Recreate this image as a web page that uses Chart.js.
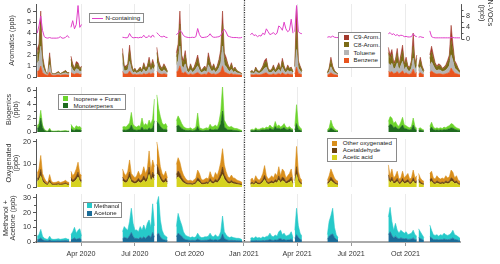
<!DOCTYPE html>
<html><head><meta charset="utf-8">
<script src="https://cdn.jsdelivr.net/npm/chart.js@4.4.1/dist/chart.umd.min.js"></script>
<style>
html,body{margin:0;padding:0;background:#fff;}
#wrap{position:relative;width:500px;height:264px;overflow:hidden;background:#fff;}
.pane{position:absolute;left:0;width:500px;}
.leg{position:absolute;background:#fff;border:1px solid #8a8a8a;box-sizing:border-box;font-family:'Liberation Sans',Arial,sans-serif;font-size:6.2px;color:#222;}
.leg .row{position:absolute;left:0;right:0;height:8px;line-height:8px;white-space:nowrap;}
.leg .sw{position:absolute;top:1.5px;width:5px;height:5px;}
.leg .ln{position:absolute;top:3.5px;width:11px;height:1px;}
.leg .tx{position:absolute;top:0;}
</style></head>
<body>
<div id="wrap">
  <div class="pane" style="top:0;height:82px"><canvas id="c1"></canvas></div>
  <div class="pane" style="top:82px;height:55px"><canvas id="c2"></canvas></div>
  <div class="pane" style="top:137px;height:55px"><canvas id="c3"></canvas></div>
  <div class="pane" style="top:192px;height:72px"><canvas id="c4"></canvas></div>
</div>
<script>
// ---------------- DATA ----------------
// time axis: day number counted from 1 Jan 2020; each measurement block starts at segStart and has one value every STEP days
const STEP = 3;
const segStart = [17, 74, 161, 219, 252, 377, 452, 507, 610, 661, 680];
const quarterDays = [91, 182, 274, 366, 456, 547, 639];
const quarterLabels = ['Apr 2020', 'Jul 2020', 'Oct 2020', 'Jan 2021', 'Apr 2021', 'Jul 2021', 'Oct 2021'];
const yearBreakDay = 366;

const aromTicks = [0, 1, 2, 3, 4, 5, 6];
const nvocTicks = [0, 4, 8];
const nvocMinor = [2, 6, 10];
const bioTicks = [0, 2, 4, 6];
const bioMinor = [1, 3, 5];
const oxyTicks = [0, 5, 10, 15, 20];
const methTicks = [0, 10, 20, 30];
const methMinor = [5, 15, 25];

// Aromatics (ppb)
const benzene = [
 [0.5,0.57,1.0,0.42,0.27,0.18,0.17,0.45,0.18,0.17,0.17,0.18,0.2,0.17,0.18,0.2,0.21,0.18,0.18],
 [0.4,0.3,0.24,0.33,0.32,0.24,0.27],
 [0.51,0.27,0.27,0.3,0.55,0.32,0.21,0.24,0.2,0.22,0.26,0.21,0.32,0.24,0.27,0.39,0.26,0.36,0.27],
 [0.53,0.35,0.27,0.24,0.3,0.26,0.2],
 [0.45,0.57,1.02,0.42,0.35,0.48,0.27,0.21,0.3,0.23,0.26,0.33,0.42,0.29,0.21,0.24,0.27,0.23,0.45,0.33,0.24,0.3,0.23,0.27,0.36,0.5,1.02,0.45,0.39,0.3,0.24,0.32,0.23,0.26,0.21,0.2,0.18,0.16],
 [0.2,0.21,0.18,0.26,0.21,0.2,0.22,0.27,0.35,0.38,0.24,0.21,0.22,0.29,0.21,0.26,0.32,0.22,0.38,0.27,0.21,0.29,0.24,0.26,0.2],
 [0.27,0.9,0.35,0.27,0.21],
 [0.18,0.24,0.39,0.27,0.21,0.18,0.17],
 [0.52,0.42,0.5,0.32,0.36,0.51,0.29,0.42,0.56,0.3,0.39,0.27,0.26,0.35,0.72,0.3,0.42],
 [0.27,0.39,0.27,0.21],
 [0.42,0.54,0.42,0.32,0.27,0.3,0.29,0.24,0.26,0.29,0.35,0.42,0.82,0.57,0.35,0.3,0.24,0.2]
];
const toluene = [
 [0.75,0.9,1.8,0.6,0.3,0.12,0.08,0.66,0.12,0.08,0.08,0.12,0.15,0.08,0.12,0.15,0.18,0.12,0.12],
 [0.57,0.36,0.24,0.42,0.39,0.24,0.3],
 [0.78,0.3,0.3,0.36,0.87,0.39,0.18,0.24,0.15,0.21,0.27,0.18,0.39,0.24,0.3,0.54,0.27,0.48,0.3],
 [0.81,0.45,0.3,0.24,0.36,0.27,0.15],
 [0.66,0.9,1.8,0.6,0.45,0.72,0.3,0.18,0.36,0.21,0.27,0.42,0.6,0.33,0.18,0.24,0.3,0.21,0.66,0.42,0.24,0.36,0.21,0.3,0.48,0.75,1.8,0.66,0.54,0.36,0.24,0.39,0.21,0.27,0.18,0.15,0.12,0.09],
 [0.15,0.18,0.12,0.27,0.18,0.15,0.21,0.3,0.45,0.51,0.24,0.18,0.21,0.33,0.18,0.27,0.39,0.21,0.51,0.3,0.18,0.33,0.24,0.27,0.15],
 [0.3,1.6,0.45,0.3,0.18],
 [0.12,0.24,0.54,0.3,0.18,0.12,0.08],
 [0.81,0.6,0.75,0.39,0.48,0.78,0.33,0.6,0.87,0.36,0.54,0.3,0.27,0.45,1.0,0.36,0.6],
 [0.3,0.54,0.3,0.18],
 [0.6,0.84,0.6,0.39,0.3,0.36,0.33,0.24,0.27,0.33,0.45,0.6,1.2,0.9,0.45,0.36,0.24,0.15]
];
const c8Arom = [
 [0.83,1.0,2.0,0.66,0.33,0.08,0.04,0.73,0.08,0.04,0.04,0.08,0.12,0.04,0.08,0.12,0.17,0.08,0.08],
 [0.63,0.4,0.26,0.46,0.43,0.26,0.33],
 [0.86,0.33,0.33,0.4,0.96,0.43,0.18,0.26,0.13,0.21,0.3,0.18,0.43,0.26,0.33,0.6,0.3,0.53,0.33],
 [0.89,0.5,0.33,0.26,0.4,0.3,0.13],
 [0.73,1.0,2.0,0.66,0.5,0.79,0.33,0.18,0.4,0.23,0.3,0.46,0.66,0.36,0.18,0.26,0.33,0.23,0.73,0.46,0.26,0.4,0.23,0.33,0.53,0.83,2.0,0.73,0.59,0.4,0.26,0.43,0.23,0.3,0.18,0.13,0.08,0.04],
 [0.12,0.17,0.08,0.3,0.17,0.12,0.21,0.33,0.5,0.56,0.26,0.17,0.21,0.36,0.17,0.3,0.43,0.21,0.56,0.33,0.17,0.36,0.26,0.3,0.12],
 [0.33,1.8,0.5,0.33,0.17],
 [0.08,0.26,0.6,0.33,0.17,0.08,0.04],
 [0.89,0.66,0.83,0.43,0.53,0.86,0.36,0.66,0.96,0.4,0.59,0.33,0.3,0.5,1.1,0.4,0.66],
 [0.33,0.6,0.33,0.17],
 [0.66,0.92,0.66,0.43,0.33,0.4,0.36,0.26,0.3,0.36,0.5,0.66,1.3,1.0,0.5,0.4,0.26,0.12]
];
const c9Arom = [
 [0.42,0.53,1.2,0.32,0.1,0.02,0.01,0.36,0.02,0.01,0.01,0.02,0.03,0.01,0.02,0.03,0.04,0.02,0.02],
 [0.3,0.14,0.06,0.19,0.16,0.06,0.1],
 [0.45,0.1,0.1,0.14,0.52,0.16,0.03,0.06,0.02,0.06,0.07,0.03,0.16,0.06,0.1,0.27,0.07,0.23,0.1],
 [0.47,0.2,0.1,0.06,0.14,0.07,0.02],
 [0.36,0.53,1.18,0.32,0.2,0.41,0.1,0.03,0.14,0.03,0.07,0.19,0.32,0.12,0.03,0.06,0.1,0.03,0.36,0.19,0.06,0.14,0.03,0.1,0.23,0.42,1.18,0.36,0.28,0.14,0.06,0.16,0.03,0.07,0.03,0.02,0.02,0.01],
 [0.03,0.04,0.02,0.07,0.04,0.03,0.06,0.1,0.2,0.25,0.06,0.04,0.06,0.12,0.04,0.07,0.16,0.06,0.25,0.1,0.04,0.12,0.06,0.07,0.03],
 [0.1,2.1,0.2,0.1,0.04],
 [0.02,0.06,0.27,0.1,0.04,0.02,0.01],
 [0.48,0.32,0.42,0.16,0.23,0.45,0.12,0.32,0.51,0.14,0.28,0.1,0.07,0.2,1.18,0.14,0.32],
 [0.1,0.27,0.1,0.04],
 [0.32,0.5,0.32,0.16,0.1,0.14,0.12,0.06,0.07,0.12,0.2,0.32,1.38,0.53,0.2,0.14,0.06,0.03]
];
// N-containing VOCs (ppb, right axis)
const nContaining = [
 [2.0,4.5,7.9,3.0,0.8,0.4,0.3,0.5,0.3,0.3,0.3,0.3,0.4,0.8,0.3,0.3,0.6,1.2,0.4],
 [4.0,6.3,3.5,5.0,11.5,4.0,5.0],
 [0.6,0.5,0.4,0.5,1.9,0.8,0.4,0.5,0.5,0.4,0.6,0.5,1.3,0.5,0.6,1.2,0.5,1.4,0.6],
 [2.2,1.5,0.9,0.7,1.0,0.6,0.5],
 [1.5,2.0,3.0,2.4,1.2,0.8,0.6,0.5,0.5,0.6,0.5,0.8,3.6,1.5,0.6,0.5,0.6,0.7,1.0,1.8,0.9,0.6,0.6,0.7,0.8,1.2,2.5,3.3,2.4,1.0,0.8,0.6,0.5,0.5,0.5,0.4,0.4,0.6],
 [1.5,2.0,1.2,1.4,0.8,1.2,1.0,2.0,1.5,3.5,2.5,1.5,1.8,2.2,1.5,2.0,4.5,4.0,3.0,5.8,3.5,2.5,3.0,6.8,2.0],
 [2.5,11.5,2.5,2.0,1.8],
 [0.6,0.8,0.6,1.0,0.6,0.5,0.5],
 [1.8,2.2,1.5,1.8,1.2,1.5,1.0,1.3,1.2,0.8,0.9,0.7,0.7,0.8,1.8,1.0,0.8],
 [0.6,0.8,0.6,0.5],
 [2.8,0.8,0.5,0.4,0.4,0.4,0.4,0.4,0.4,0.4,0.4,0.4,0.5,0.5,0.4,0.4,0.4,0.4]
];
// Biogenics (ppb)
const monoterpenes = [
 [0.5,0.7,2.0,0.6,0.25,0.08,0.06,0.3,0.06,0.05,0.05,0.06,0.08,0.05,0.06,0.07,0.08,0.06,0.06],
 [0.5,0.3,0.2,0.4,0.3,0.3,0.2],
 [0.25,0.3,0.25,0.35,0.45,1.0,0.4,0.3,0.25,0.3,0.3,0.7,0.3,0.4,0.3,0.6,0.4,0.6,1.6],
 [1.5,1.2,0.8,0.5,0.35,0.4,0.25],
 [0.7,1.0,0.8,0.5,0.35,0.25,0.2,0.2,0.25,0.15,0.2,0.3,0.8,0.25,0.2,0.15,0.2,0.25,0.2,0.45,0.3,0.3,0.4,0.3,0.6,1.2,3.0,0.7,0.5,0.3,0.3,0.3,0.25,0.2,0.2,0.15,0.1,0.08],
 [0.17,0.22,0.17,0.33,0.22,0.22,0.28,0.33,0.28,0.4,0.33,0.55,0.4,0.33,0.8,0.45,0.55,0.4,0.5,0.65,0.4,0.33,0.45,0.28,0.22],
 [0.3,1.2,0.4,0.25,0.15],
 [0.15,0.25,0.6,0.4,0.2,0.12,0.1],
 [0.75,1.1,1.0,0.6,0.75,0.5,0.4,0.7,1.0,0.5,0.45,0.35,0.3,0.4,1.0,0.4,0.25],
 [0.25,0.3,0.2,0.15],
 [0.4,0.7,0.35,0.25,0.3,0.25,0.3,0.25,0.35,0.3,0.4,0.45,0.6,0.55,0.4,0.3,0.25,0.2]
];
const isopreneFuran = [
 [0.4,0.5,1.1,0.4,0.15,0.1,0.08,0.25,0.1,0.08,0.08,0.1,0.1,0.08,0.1,0.12,0.12,0.1,0.1],
 [0.6,0.4,0.3,0.5,0.4,0.5,0.3],
 [0.45,0.5,0.45,0.65,0.85,1.8,0.7,0.5,0.45,0.6,0.5,1.3,0.6,0.8,0.6,1.1,0.7,1.3,3.1],
 [3.8,2.2,1.4,0.8,0.65,0.8,0.45],
 [0.9,1.3,1.0,0.7,0.45,0.35,0.3,0.3,0.35,0.25,0.3,0.4,1.9,0.35,0.3,0.25,0.3,0.35,0.3,0.65,0.4,0.5,0.6,0.4,0.9,1.7,3.6,1.0,0.7,0.5,0.4,0.5,0.35,0.3,0.3,0.25,0.2,0.12],
 [0.13,0.18,0.13,0.27,0.18,0.18,0.22,0.27,0.22,0.3,0.27,0.45,0.3,0.27,0.7,0.35,0.45,0.3,0.4,0.55,0.3,0.27,0.35,0.22,0.18],
 [0.5,2.7,0.6,0.35,0.25],
 [0.15,0.35,1.1,0.5,0.3,0.18,0.1],
 [0.75,1.1,1.0,0.6,0.75,0.5,0.4,0.7,1.1,0.5,0.45,0.35,0.3,0.4,1.0,0.4,0.25],
 [0.25,0.3,0.2,0.15],
 [0.4,0.7,0.35,0.25,0.3,0.25,0.3,0.25,0.35,0.3,0.4,0.45,0.6,0.55,0.4,0.3,0.25,0.2]
];
// Oxygenated (ppb)
const aceticAcid = [
 [2.4,3,5,2.4,1.6,1.0,0.8,2.0,1.0,0.8,0.8,0.9,1.0,0.8,0.9,1.0,1.2,0.9,0.8],
 [2.8,2,2.4,3.2,4.4,2.4,2],
 [2.8,2.1,1.75,2.45,4.2,2.1,1.75,1.4,1.75,2.45,1.75,2.1,3.15,2.1,2.8,5.6,2.45,4.2,3.15],
 [6,5,3.2,2.1,1.75,2.45,1.4],
 [3.5,4.5,3.8,2.6,1.9,1.4,1.05,1.0,1.05,0.9,1.1,1.4,2.6,2.1,1.2,1.05,1.2,1.4,1.2,2.4,1.6,1.4,2.2,1.75,2.6,3.8,5.5,3.4,2.4,1.6,1.4,1.9,1.4,1.35,1.1,1.0,0.9,0.7],
 [1.05,1.4,0.9,1.75,1.2,1.05,1.4,2.1,3.3,1.75,1.2,1.4,1.75,1.4,2.1,1.75,3.15,1.75,2.8,2.45,1.4,1.75,2.1,2.8,1.05],
 [1.75,5.5,2.45,1.4,1.05],
 [1.05,1.75,2.8,2.1,1.4,1.05,0.9],
 [3.4,1.75,2.8,1.4,1.75,2.45,1.2,1.4,2.45,1.4,1.75,2.1,1.2,1.4,2.6,1.4,1.75],
 [2.1,1.4,1.05,0.9],
 [2.1,2.45,1.4,1.2,1.75,1.4,1.2,1.4,1.2,1.75,1.4,1.6,2.6,2.3,1.4,1.75,1.05,0.9]
];
const acetaldehyde = [
 [1.2,1.6,2.8,1.2,0.8,0.5,0.4,1.1,0.5,0.4,0.4,0.45,0.5,0.4,0.45,0.5,0.6,0.45,0.4],
 [1.4,1,1.2,1.6,2.2,1.2,1],
 [1.6,1.2,1.0,1.4,2.4,1.2,1.0,0.8,1.0,1.4,1.0,1.2,1.8,1.2,1.6,3.2,1.4,2.4,1.8],
 [4,3,1.8,1.2,1.0,1.4,0.8],
 [2,2.6,2.2,1.5,1.06,0.8,0.6,0.56,0.6,0.52,0.64,0.8,1.5,1.2,0.7,0.6,0.7,0.8,0.7,1.36,0.92,0.8,1.28,1.0,1.5,2.2,3.4,1.96,1.36,0.92,0.8,1.06,0.8,0.78,0.62,0.56,0.5,0.4],
 [0.6,0.8,0.5,1.0,0.7,0.6,0.8,1.2,1.9,1.0,0.7,0.8,1.0,0.8,1.2,1.0,1.8,1.0,1.6,1.4,0.8,1.0,1.2,1.6,0.6],
 [1.0,3.5,1.4,0.8,0.6],
 [0.6,1.0,1.6,1.2,0.8,0.6,0.5],
 [2.0,1.0,1.6,0.8,1.0,1.4,0.7,0.8,1.4,0.8,1.0,1.2,0.7,0.8,1.5,0.8,1.0],
 [1.2,0.8,0.6,0.5],
 [1.2,1.4,0.8,0.7,1.0,0.8,0.7,0.8,0.7,1.0,0.8,0.9,1.5,1.3,0.8,1.0,0.6,0.5]
];
const otherOxygenated = [
 [2.4,3.4,6.2,2.4,1.6,1.0,0.8,2.4,1.0,0.8,0.8,0.85,1.0,0.8,0.85,1.0,1.2,0.85,0.8],
 [2.8,2,2.4,3.2,4.4,2.4,2],
 [3.6,2.7,2.25,3.15,5.4,2.7,2.25,1.8,2.25,3.15,2.25,2.7,4.05,2.7,3.6,7.2,3.15,5.4,4.05],
 [10,7,4,2.7,2.25,3.15,1.8],
 [4.5,5.9,5,3.4,2.34,1.8,1.35,1.24,1.35,1.18,1.46,1.8,3.4,2.7,1.6,1.35,1.6,1.8,1.6,3.04,2.08,1.8,2.92,2.25,3.4,5,8.1,4.44,3.04,2.08,1.8,2.34,1.8,1.77,1.38,1.24,1.1,0.9],
 [1.35,1.8,1.1,2.25,1.6,1.35,1.8,2.7,4.3,2.25,1.6,1.8,2.25,1.8,2.7,2.25,4.05,2.25,3.6,3.15,1.8,2.25,2.7,3.6,1.35],
 [2.25,9,3.15,1.8,1.35],
 [1.35,2.25,3.6,2.7,1.8,1.35,1.1],
 [4.4,2.25,3.6,1.8,2.25,3.15,1.6,1.8,3.15,1.8,2.25,2.7,1.6,1.8,3.4,1.8,2.25],
 [2.7,1.8,1.35,1.1],
 [2.7,3.15,1.8,1.6,2.25,1.8,1.6,1.8,1.6,2.25,1.8,2.0,3.4,2.9,1.8,2.25,1.35,1.1]
];
// Methanol + Acetone (ppb)
const acetone = [
 [1.5,1.8,2.8,1.5,1.0,0.8,0.7,1.4,0.8,0.7,0.7,0.8,0.85,0.7,0.8,0.85,1.0,0.8,0.7],
 [1.5,2,2.8,1.8,2.2,2.5,1.3],
 [2.1,3.2,2.7,2.4,4.2,6.5,3.8,2.4,2.5,2.1,3.2,2.4,3.5,2.4,3.8,4.5,3.0,6.5,3.3],
 [5,6,3.5,2,1.5,1.2,1],
 [3.5,6,5,4,2.4,1.7,1.4,1.2,1.05,1.2,1.05,1.2,2.1,1.4,1.05,1.05,1.2,1.2,1.4,2.1,1.4,1.2,1.75,1.2,1.4,2.4,5.5,2.4,1.75,1.25,1.05,1.2,1.05,1.0,0.9,0.9,0.8,0.5],
 [0.75,0.9,0.75,1.1,0.85,0.9,0.75,1.05,0.9,1.15,1.2,1.8,1.2,1.05,1.45,1.2,2.1,2.4,1.5,1.8,1.2,1.35,1.5,2.1,0.9],
 [2.5,5,3,1.8,1.2],
 [1.8,4,5,5.5,3,1.8,1.2],
 [5,7,4.5,2.8,4,2.8,2.1,2.8,2.45,2.1,2.45,1.75,1.9,2.1,2.8,1.75,1.4],
 [3,2.4,1.7,1],
 [3.5,2.8,1.75,1.6,1.75,1.4,1.75,1.6,2.1,1.75,1.6,1.75,2.1,2.8,1.75,1.6,1.2,0.9]
];
const methanol = [
 [2.5,3.2,5.8,2.5,1.5,1.2,1.1,2.6,1.2,1.1,1.1,1.2,1.35,1.1,1.2,1.35,1.5,1.2,1.1],
 [3.5,5,7.2,4.2,5.8,6.5,2.7],
 [4.9,7.3,6.3,5.6,9.8,16.5,8.9,5.6,5.7,4.9,7.3,5.6,8.1,5.6,8.9,10.5,7.0,19.5,7.7],
 [21,25,11.5,6,3.5,2.8,2],
 [7,13.5,10,7.6,4.6,3.1,2.6,2.3,1.95,2.3,1.95,2.3,3.9,2.6,1.95,1.95,2.3,2.3,2.6,3.9,2.6,2.3,3.25,2.3,2.6,4.6,12.2,4.6,3.25,2.35,1.95,2.3,1.95,1.8,1.6,1.6,1.4,1.0],
 [1.75,2.1,1.75,2.5,1.95,2.1,1.75,2.45,2.1,2.65,2.8,4.2,2.8,2.45,3.35,2.8,4.9,5.6,3.5,4.2,2.8,3.15,3.5,4.9,2.1],
 [5.5,18,8,4.2,2.8],
 [3.2,10,13,17.5,7,3.2,1.8],
 [12,16.6,9.5,5.2,8.7,5.2,3.9,5.2,4.55,3.9,4.55,3.25,3.6,3.9,5.2,3.25,2.6],
 [6,4.6,3.3,2],
 [8.1,5.2,3.25,2.9,3.25,2.6,3.25,2.9,3.9,3.25,2.9,3.25,3.9,5.2,3.25,2.9,2.3,1.6]
];

// ---------------- HELPERS ----------------
const FONT = "'Liberation Sans', Arial, sans-serif";
Chart.defaults.font.family = FONT;
const wrap = document.getElementById('wrap');

function buildPoints(segs) {
  const pts = [];
  segs.forEach((seg, i) => {
    seg.forEach((v, j) => pts.push({x: segStart[i] + j * STEP, y: v}));
    pts.push({x: segStart[i] + (seg.length - 1) * STEP + 1, y: null});
  });
  return pts;
}
function stackSeries(list) {
  const out = []; let acc = null;
  list.forEach(series => {
    acc = series.map((seg, i) => seg.map((v, j) => v + (acc ? (acc[i][j] || 0) : 0)));
    out.push(acc);
  });
  return out;
}
function areaSets(list, colors, labels) {
  return stackSeries(list).map((segs, k) => ({
    label: labels[k], data: buildPoints(segs), yAxisID: 'y',
    borderColor: colors[k], backgroundColor: colors[k], borderWidth: 0.6,
    pointRadius: 0, tension: 0, spanGaps: false, fill: k === 0 ? 'origin' : '-1'
  }));
}
function xScale(bottom) {
  return {
    type: 'linear', min: 15, max: 731,
    afterBuildTicks: s => { s.ticks = quarterDays.map(v => ({value: v})); },
    afterFit: s => { s.height = bottom ? 22 : 0; s.paddingLeft = 0; s.paddingRight = 0; },
    grid: {display: true, color: '#ebebeb', lineWidth: 1, drawOnChartArea: true, drawTicks: bottom, tickLength: 4, tickColor: '#999'},
    border: {display: bottom, color: '#aaa', width: 2},
    ticks: {display: bottom, autoSkip: false, maxRotation: 0, padding: 4, color: '#333', font: {family: FONT, size: 7.2},
      callback: v => quarterLabels[quarterDays.indexOf(v)]}
  };
}
function yLeft(min, max, ticks, title, titlePad) {
  return {
    type: 'linear', position: 'left', min: min, max: max,
    afterBuildTicks: s => { s.ticks = ticks.map(v => ({value: v})); },
    afterFit: s => { s.width = 36; s.paddingTop = 0; s.paddingBottom = 0; },
    grid: {drawOnChartArea: false, drawTicks: true, tickLength: 3, tickColor: '#555'},
    border: {display: true, color: '#555', width: 1},
    ticks: {padding: 2, color: '#333', font: {family: FONT, size: 7.2}},
    title: {display: true, text: title, color: '#333', font: {family: FONT, size: 7.2, lineHeight: '7px'}, padding: {top: titlePad, bottom: 0}}
  };
}
function yearLine(toAxis) {
  return {id: 'yearLine', afterDatasetsDraw(chart) {
    const x = Math.round(chart.scales.x.getPixelForValue(yearBreakDay)) + 0.5;
    const ctx = chart.ctx; ctx.save();
    ctx.strokeStyle = '#333'; ctx.lineWidth = 1.2; ctx.setLineDash([1.2, 1.2]);
    ctx.beginPath(); ctx.moveTo(x, 0); ctx.lineTo(x, toAxis ? chart.chartArea.bottom : chart.height); ctx.stroke();
    ctx.restore();
  }};
}
function minorTicks(values) {
  return {id: 'minorTicks', afterDraw(chart) {
    const s = chart.scales.y, ctx = chart.ctx; ctx.save();
    ctx.strokeStyle = '#555'; ctx.lineWidth = 1; ctx.beginPath();
    values.forEach(v => { const y = Math.round(s.getPixelForValue(v)) + 0.5; ctx.moveTo(s.right - 2, y); ctx.lineTo(s.right, y); });
    ctx.stroke(); ctx.restore();
  }};
}
const rightAxis = {id: 'rightAxis', afterDraw(chart) {
  const s = chart.scales.y2, ctx = chart.ctx, x = Math.round(chart.chartArea.right) + 1.5;
  ctx.save(); ctx.strokeStyle = '#555'; ctx.lineWidth = 1; ctx.beginPath();
  ctx.moveTo(x, s.getPixelForValue(0)); ctx.lineTo(x, s.getPixelForValue(12));
  nvocTicks.forEach(v => { const y = Math.round(s.getPixelForValue(v)) + 0.5; ctx.moveTo(x, y); ctx.lineTo(x + 3, y); });
  nvocMinor.forEach(v => { const y = Math.round(s.getPixelForValue(v)) + 0.5; ctx.moveTo(x, y); ctx.lineTo(x + 2, y); });
  ctx.stroke();
  ctx.fillStyle = '#333'; ctx.font = '7.2px ' + FONT; ctx.textAlign = 'center'; ctx.textBaseline = 'middle';
  [['N-VOCs', 490], ['(ppb)', 482]].forEach(([t, tx]) => {
    ctx.save(); ctx.translate(tx, 13); ctx.rotate(Math.PI / 2); ctx.fillText(t, 0, 0); ctx.restore();
  });
  ctx.restore();
}};
function baseOptions(scales, pad) {
  return {
    responsive: true, maintainAspectRatio: false, animation: false, devicePixelRatio: 1,
    layout: {padding: pad},
    plugins: {legend: {display: false}, tooltip: {enabled: false}},
    scales: scales
  };
}
function addLegend(box) {
  const d = document.createElement('div'); d.className = 'leg';
  Object.assign(d.style, {left: box.x + 'px', top: box.y + 'px', width: box.w + 'px', height: box.h + 'px'});
  box.items.forEach((it, i) => {
    const r = document.createElement('div'); r.className = 'row'; r.style.top = (box.r0 + i * box.rh) + 'px';
    const s = document.createElement('span'); s.className = it.line ? 'ln' : 'sw'; s.style.left = box.sx + 'px'; s.style.background = it.color;
    const t = document.createElement('span'); t.className = 'tx'; t.style.left = box.tx + 'px'; t.textContent = it.label;
    r.append(s, t); d.append(r);
  });
  wrap.append(d);
}

// ---------------- COLOURS ----------------
const col = {
  benzene: '#e8541e', toluene: '#b5b5b5', c8: '#7b6b16', c9: '#a3392c', nvoc: '#e040c8',
  mono: '#1f6b1f', iso: '#6cd42c',
  acetic: '#d6d21e', ald: '#6b4210', other: '#d98f1c',
  acetone: '#1b6c98', methanol: '#26c9c9'
};

// ---------------- CHART 1: Aromatics ----------------
const aromSets = areaSets([benzene, toluene, c8Arom, c9Arom], [col.benzene, col.toluene, col.c8, col.c9], ['Benzene', 'Toluene', 'C8-Arom.', 'C9-Arom.']);
aromSets.push({label: 'N-containing', data: buildPoints(nContaining), yAxisID: 'y2', borderColor: col.nvoc, borderWidth: 1, pointRadius: 0, tension: 0, spanGaps: false, fill: false, order: -1});
new Chart(document.getElementById('c1'), {
  type: 'line', data: {datasets: aromSets},
  options: baseOptions({
    x: xScale(false),
    y: yLeft(0, 6.64, aromTicks, 'Aromatics (ppb)', 8.5),
    y2: {type: 'linear', position: 'right', min: -13.06, max: 12.03,
      afterBuildTicks: s => { s.ticks = nvocTicks.map(v => ({value: v})); },
      afterFit: s => { s.width = 40; s.paddingTop = 0; s.paddingBottom = 0; },
      grid: {drawOnChartArea: false, drawTicks: false}, border: {display: false},
      ticks: {padding: 6, color: '#333', font: {family: FONT, size: 7.2}}}
  }, {top: 4, bottom: 5, left: 0, right: 0}),
  plugins: [yearLine(false), rightAxis]
});

// ---------------- CHART 2: Biogenics ----------------
new Chart(document.getElementById('c2'), {
  type: 'line',
  data: {datasets: areaSets([monoterpenes, isopreneFuran], [col.mono, col.iso], ['Monoterpenes', 'Isoprene + Furan'])},
  options: baseOptions({x: xScale(false), y: yLeft(0, 6.43, bioTicks, ['Biogenics', '(ppb)'], 5.5)},
    {top: 5, bottom: 5, left: 0, right: 40}),
  plugins: [yearLine(false), minorTicks(bioMinor)]
});

// ---------------- CHART 3: Oxygenated ----------------
new Chart(document.getElementById('c3'), {
  type: 'line',
  data: {datasets: areaSets([aceticAcid, acetaldehyde, otherOxygenated], [col.acetic, col.ald, col.other], ['Acetic acid', 'Acetaldehyde', 'Other oxygenated'])},
  options: baseOptions({x: xScale(false), y: yLeft(0, 21.3, oxyTicks, ['Oxygenated', '(ppb)'], 5.5)},
    {top: 2, bottom: 5, left: 0, right: 40}),
  plugins: [yearLine(false)]
});

// ---------------- CHART 4: Methanol + Acetone ----------------
new Chart(document.getElementById('c4'), {
  type: 'line',
  data: {datasets: areaSets([acetone, methanol], [col.acetone, col.methanol], ['Acetone', 'Methanol'])},
  options: baseOptions({x: xScale(true), y: yLeft(0, 32.7, methTicks, ['Methanol +', 'Acetone (ppb)'], 2.5)},
    {top: 2, bottom: 0, left: 0, right: 40}),
  plugins: [yearLine(true), minorTicks(methMinor)]
});

// ---------------- LEGENDS ----------------
addLegend({x: 89, y: 13, w: 55, h: 10, r0: 0, rh: 8, sx: 2, tx: 15.5, items: [{label: 'N-containing', color: col.nvoc, line: true}]});
addLegend({x: 338, y: 32, w: 43, h: 36, r0: 0, rh: 7.8, sx: 5, tx: 14.5, items: [
  {label: 'C9-Arom.', color: col.c9}, {label: 'C8-Arom.', color: col.c8}, {label: 'Toluene', color: col.toluene}, {label: 'Benzene', color: col.benzene}]});
addLegend({x: 58, y: 94, w: 68, h: 16, r0: -0.5, rh: 7.4, sx: 4.3, tx: 14.5, items: [
  {label: 'Isoprene + Furan', color: col.iso}, {label: 'Monoterpenes', color: col.mono}]});
addLegend({x: 327, y: 138, w: 70, h: 24, r0: 0.3, rh: 7, sx: 3.7, tx: 14.8, items: [
  {label: 'Other oxygenated', color: col.other}, {label: 'Acetaldehyde', color: col.ald}, {label: 'Acetic acid', color: col.acetic}]});
addLegend({x: 83, y: 202, w: 39, h: 16, r0: -1.3, rh: 7.6, sx: 3.3, tx: 10, items: [
  {label: 'Methanol', color: col.methanol}, {label: 'Acetone', color: col.acetone}]});
</script>
</body></html>
